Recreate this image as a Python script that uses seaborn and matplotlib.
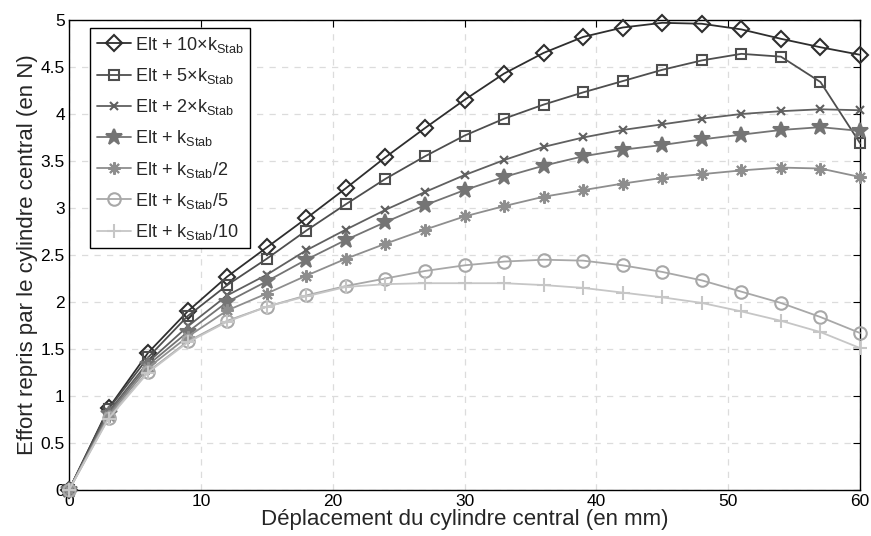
import numpy as np
import pandas as pd
import matplotlib
matplotlib.use("Agg")
import matplotlib.pyplot as plt
import seaborn as sns

x_mm = [0, 3, 6, 9, 12, 15, 18, 21, 24, 27, 30, 33, 36, 39, 42, 45, 48, 51, 54, 57, 60]

k10 = [0, 0.87, 1.46, 1.90, 2.27, 2.58, 2.89, 3.21, 3.54, 3.85, 4.15, 4.43, 4.65, 4.82, 4.92, 4.97, 4.96, 4.90, 4.80, 4.71, 4.63]
k5 = [0, 0.86, 1.41, 1.85, 2.18, 2.46, 2.76, 3.04, 3.31, 3.55, 3.77, 3.95, 4.10, 4.23, 4.35, 4.47, 4.57, 4.64, 4.61, 4.34, 3.69]
k2 = [0, 0.83, 1.36, 1.74, 2.07, 2.29, 2.55, 2.77, 2.98, 3.17, 3.35, 3.51, 3.65, 3.75, 3.83, 3.89, 3.95, 4.00, 4.03, 4.05, 4.04]
k1 = [0, 0.81, 1.33, 1.68, 2.00, 2.22, 2.45, 2.66, 2.85, 3.03, 3.19, 3.33, 3.45, 3.55, 3.62, 3.67, 3.73, 3.78, 3.83, 3.86, 3.82]
k_2 = [0, 0.79, 1.30, 1.63, 1.91, 2.09, 2.28, 2.46, 2.62, 2.77, 2.91, 3.02, 3.12, 3.19, 3.26, 3.32, 3.36, 3.40, 3.43, 3.42, 3.33]
k_5 = [0, 0.77, 1.26, 1.58, 1.80, 1.95, 2.07, 2.17, 2.25, 2.33, 2.39, 2.43, 2.45, 2.44, 2.39, 2.32, 2.23, 2.11, 1.99, 1.84, 1.67]
k_10 = [0, 0.76, 1.25, 1.57, 1.79, 1.95, 2.06, 2.16, 2.19, 2.20, 2.20, 2.20, 2.18, 2.15, 2.10, 2.05, 1.99, 1.90, 1.80, 1.68, 1.51]

labels = [
    r"Elt + 10$\times$k$_{\mathrm{Stab}}$",
    r"Elt + 5$\times$k$_{\mathrm{Stab}}$",
    r"Elt + 2$\times$k$_{\mathrm{Stab}}$",
    r"Elt + k$_{\mathrm{Stab}}$",
    r"Elt + k$_{\mathrm{Stab}}$/2",
    r"Elt + k$_{\mathrm{Stab}}$/5",
    r"Elt + k$_{\mathrm{Stab}}$/10",
]
series = [k10, k5, k2, k1, k_2, k_5, k_10]

colors = ["#2e2e2e", "#4e4e4e", "#606060", "#747474", "#8e8e8e", "#a8a8a8", "#c6c6c6"]
markers = ["D", "s", "x", "*", (8, 2, 0), "o", "+"]
msizes = [8, 7, 6, 12, 9, 9, 10]
filled = [False, False, True, True, True, False, True]

sns.set_style("white")
plt.rcParams["font.family"] = ["Liberation Sans", "DejaVu Sans"]
plt.rcParams["mathtext.fontset"] = "custom"
plt.rcParams["mathtext.rm"] = "Liberation Sans"
plt.rcParams["mathtext.it"] = "Liberation Sans:italic"

fig = plt.figure(figsize=(8.71, 5.36), dpi=100)
ax = fig.add_axes([0.0792, 0.0858, 0.9082, 0.8769])

for lab, ys, c, m, ms, f in zip(labels, series, colors, markers, msizes, filled):
    kw = dict(color=c, marker=m, markersize=ms, linewidth=1.3,
              markeredgecolor=c, markeredgewidth=1.5, clip_on=False, zorder=3)
    kw["markerfacecolor"] = c if f else "none"
    sns.lineplot(x=x_mm, y=ys, ax=ax, label=lab, **kw)

ax.set_xlim(0, 60)
ax.set_ylim(0, 5)
ax.set_xticks([0, 10, 20, 30, 40, 50, 60])
ax.set_yticks([0, 0.5, 1, 1.5, 2, 2.5, 3, 3.5, 4, 4.5, 5])
ax.set_yticklabels(["0", "0.5", "1", "1.5", "2", "2.5", "3", "3.5", "4", "4.5", "5"])
ax.grid(True, linestyle=(0, (5, 5)), color="#dcdcdc", linewidth=0.9)
ax.set_axisbelow(True)
ax.tick_params(direction="in", length=5, width=0.8, top=True, right=True,
               labelsize=12.5, colors="black", pad=3)
for s in ax.spines.values():
    s.set_color("black")
    s.set_linewidth(1.0)
    s.set_zorder(2.5)

ax.set_xlabel("Déplacement du cylindre central (en mm)", fontsize=16, labelpad=0)
ax.set_ylabel("Effort repris par le cylindre central (en N)", fontsize=16, labelpad=2)

leg = ax.legend(loc="upper left", bbox_to_anchor=(0.027, 0.982), fontsize=13,
                frameon=True, fancybox=False, edgecolor="black", framealpha=1,
                handlelength=1.9, handletextpad=0.2, labelspacing=0.62,
                borderpad=0.35, borderaxespad=0)
leg.get_frame().set_linewidth(1.0)
leg.set_zorder(5)

fig.savefig("out.png", dpi=100)
